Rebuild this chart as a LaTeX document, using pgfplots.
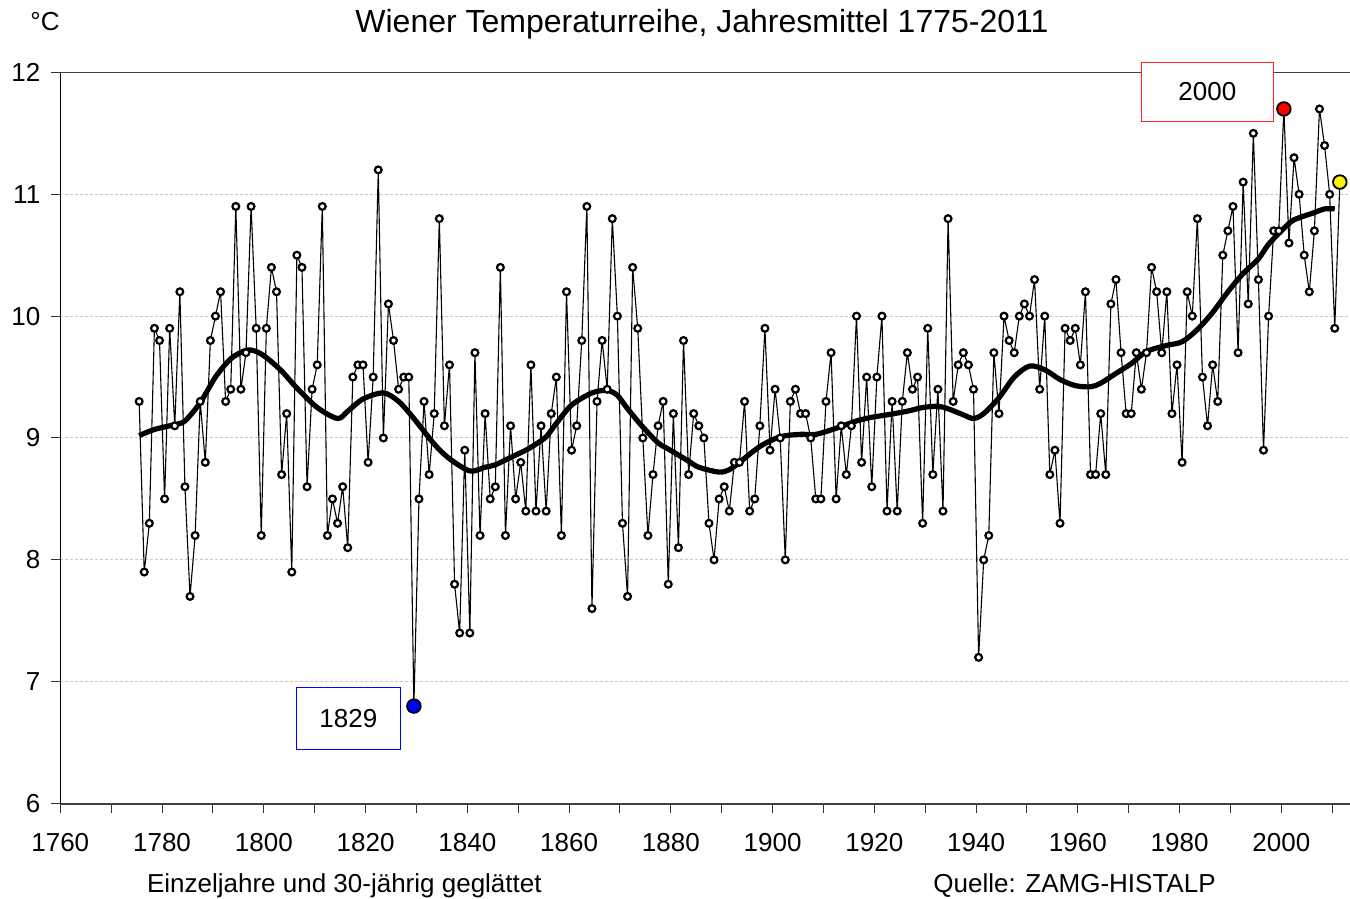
\documentclass[border=0pt]{standalone}
\usepackage{pgfplots}
\pgfplotsset{compat=1.18}
\usepackage{pgfplotstable}
\usepackage{fontspec}
\setmainfont{Liberation Sans}

% Jahresmittel Wien (Einzeljahre)
\pgfplotstableread{
year temp
1775 9.3
1776 7.9
1777 8.3
1778 9.9
1779 9.8
1780 8.5
1781 9.9
1782 9.1
1783 10.2
1784 8.6
1785 7.7
1786 8.2
1787 9.3
1788 8.8
1789 9.8
1790 10.0
1791 10.2
1792 9.3
1793 9.4
1794 10.9
1795 9.4
1796 9.7
1797 10.9
1798 9.9
1799 8.2
1800 9.9
1801 10.4
1802 10.2
1803 8.7
1804 9.2
1805 7.9
1806 10.5
1807 10.4
1808 8.6
1809 9.4
1810 9.6
1811 10.9
1812 8.2
1813 8.5
1814 8.3
1815 8.6
1816 8.1
1817 9.5
1818 9.6
1819 9.6
1820 8.8
1821 9.5
1822 11.2
1823 9.0
1824 10.1
1825 9.8
1826 9.4
1827 9.5
1828 9.5
1829 6.8
1830 8.5
1831 9.3
1832 8.7
1833 9.2
1834 10.8
1835 9.1
1836 9.6
1837 7.8
1838 7.4
1839 8.9
1840 7.4
1841 9.7
1842 8.2
1843 9.2
1844 8.5
1845 8.6
1846 10.4
1847 8.2
1848 9.1
1849 8.5
1850 8.8
1851 8.4
1852 9.6
1853 8.4
1854 9.1
1855 8.4
1856 9.2
1857 9.5
1858 8.2
1859 10.2
1860 8.9
1861 9.1
1862 9.8
1863 10.9
1864 7.6
1865 9.3
1866 9.8
1867 9.4
1868 10.8
1869 10.0
1870 8.3
1871 7.7
1872 10.4
1873 9.9
1874 9.0
1875 8.2
1876 8.7
1877 9.1
1878 9.3
1879 7.8
1880 9.2
1881 8.1
1882 9.8
1883 8.7
1884 9.2
1885 9.1
1886 9.0
1887 8.3
1888 8.0
1889 8.5
1890 8.6
1891 8.4
1892 8.8
1893 8.8
1894 9.3
1895 8.4
1896 8.5
1897 9.1
1898 9.9
1899 8.9
1900 9.4
1901 9.0
1902 8.0
1903 9.3
1904 9.4
1905 9.2
1906 9.2
1907 9.0
1908 8.5
1909 8.5
1910 9.3
1911 9.7
1912 8.5
1913 9.1
1914 8.7
1915 9.1
1916 10.0
1917 8.8
1918 9.5
1919 8.6
1920 9.5
1921 10.0
1922 8.4
1923 9.3
1924 8.4
1925 9.3
1926 9.7
1927 9.4
1928 9.5
1929 8.3
1930 9.9
1931 8.7
1932 9.4
1933 8.4
1934 10.8
1935 9.3
1936 9.6
1937 9.7
1938 9.6
1939 9.4
1940 7.2
1941 8.0
1942 8.2
1943 9.7
1944 9.2
1945 10.0
1946 9.8
1947 9.7
1948 10.0
1949 10.1
1950 10.0
1951 10.3
1952 9.4
1953 10.0
1954 8.7
1955 8.9
1956 8.3
1957 9.9
1958 9.8
1959 9.9
1960 9.6
1961 10.2
1962 8.7
1963 8.7
1964 9.2
1965 8.7
1966 10.1
1967 10.3
1968 9.7
1969 9.2
1970 9.2
1971 9.7
1972 9.4
1973 9.7
1974 10.4
1975 10.2
1976 9.7
1977 10.2
1978 9.2
1979 9.6
1980 8.8
1981 10.2
1982 10.0
1983 10.8
1984 9.5
1985 9.1
1986 9.6
1987 9.3
1988 10.5
1989 10.7
1990 10.9
1991 9.7
1992 11.1
1993 10.1
1994 11.5
1995 10.3
1996 8.9
1997 10.0
1998 10.7
1999 10.7
2000 11.7
2001 10.6
2002 11.3
2003 11.0
2004 10.5
2005 10.2
2006 10.7
2007 11.7
2008 11.4
2009 11.0
2010 9.9
2011 11.1
}\jahre

% 30-jaehrig geglaettet
\pgfplotstableread{
year temp
1775 9.02
1778 9.07
1782 9.11
1784 9.14
1787 9.29
1790 9.50
1793 9.65
1796 9.72
1798 9.71
1800 9.66
1803 9.55
1806 9.41
1810 9.25
1814 9.16
1816 9.22
1819 9.32
1823 9.37
1826 9.30
1829 9.16
1833 8.95
1836 8.83
1840 8.73
1843 8.76
1845 8.78
1848 8.84
1851 8.90
1853 8.95
1855 9.01
1857 9.12
1860 9.27
1864 9.37
1867 9.39
1869 9.35
1871 9.24
1874 9.09
1877 8.96
1879 8.91
1883 8.81
1885 8.76
1889 8.72
1891 8.74
1893 8.80
1897 8.93
1901 9.01
1905 9.03
1908 9.03
1912 9.08
1916 9.14
1919 9.17
1922 9.19
1926 9.22
1929 9.25
1932 9.26
1934 9.24
1937 9.19
1939 9.16
1941 9.20
1944 9.33
1947 9.50
1950 9.59
1953 9.56
1956 9.48
1959 9.43
1962 9.42
1964 9.45
1967 9.53
1970 9.61
1973 9.71
1977 9.76
1980 9.79
1983 9.89
1986 10.03
1989 10.20
1992 10.35
1995 10.47
1997 10.59
2000 10.72
2002 10.79
2006 10.85
2008 10.88
2010 10.88
}\glatt

\begin{document}
\begin{tikzpicture}
\begin{axis}[
    at={(0,0)}, anchor=south west,
    scale only axis,
    width=644.85pt, height=365.6pt,
    xmin=1759.5, xmax=2013,
    ymin=6, ymax=12,
    axis lines*=left,
    x axis line style={-, draw=black!75, line width=1pt},
    y axis line style={-, draw=black, line width=0.5pt},
    tick align=outside,
    major tick length=4.5pt,
    tick style={draw=black!80, line width=0.5pt},
    xtick={1759.5,1769.5,...,2009.5},
    xticklabels={1760,,1780,,1800,,1820,,1840,,1860,,1880,,1900,,1920,,1940,,1960,,1980,,2000,},
    ytick={6,7,...,12},
    ymajorgrids,
    grid style={draw=black!22, dash pattern=on 1.5pt off 1pt, line width=0.5pt},
    /pgf/number format/assume math mode=true,
    ticklabel style={font=\fontsize{13}{13}\selectfont},
    xticklabel style={anchor=north, yshift=-7pt},
    yticklabel style={anchor=east, xshift=-2pt},
]
\addplot[black, line width=0.55pt, mark=*, mark size=1.7pt,
    mark options={fill=white, draw=black, line width=1.1pt}]
    table[x=year, y=temp] {\jahre};
\addplot[black, line width=2.6pt, smooth] table[x=year, y=temp] {\glatt};
\addplot[only marks, mark=*, mark size=3.4pt,
    mark options={fill=blue, draw=black, line width=0.9pt}] coordinates {(1829,6.8)};
\addplot[only marks, mark=*, mark size=3.4pt,
    mark options={fill=red, draw=black, line width=0.9pt}] coordinates {(2000,11.7)};
\addplot[only marks, mark=*, mark size=3.4pt,
    mark options={fill=yellow, draw=black, line width=0.9pt}] coordinates {(2011,11.1)};
\end{axis}

% obere Begrenzung
\draw[black!75, line width=0.5pt] (0,365.6pt) -- (644.85pt,365.6pt);

% Markierungen
\node[draw=red!85, fill=white, line width=0.5pt, minimum width=66pt, minimum height=29.3pt,
    inner sep=0pt, font=\fontsize{13}{13}\selectfont] at (573.5pt,355.8pt) {2000};
\node[draw=blue, fill=white, line width=0.5pt, minimum width=52pt, minimum height=31pt,
    inner sep=0pt, font=\fontsize{13}{13}\selectfont] at (144pt,42.65pt) {1829};

% Texte
\node[anchor=base west, inner sep=0pt, font=\fontsize{16}{16}\selectfont]
    at (147.35pt,385.5pt) {Wiener Temperaturreihe, Jahresmittel 1775-2011};
\node[anchor=base west, inner sep=0pt, font=\fontsize{13}{13}\selectfont]
    at (-15.15pt,386.3pt) {°C};
\node[anchor=base west, inner sep=0pt, font=\fontsize{13}{13}\selectfont]
    at (43.2pt,-44.7pt) {Einzeljahre und 30-jährig geglättet};
\node[anchor=base west, inner sep=0pt, font=\fontsize{13}{13}\selectfont]
    at (436.35pt,-44.7pt) {Quelle: ZAMG-HISTALP};

\pgfresetboundingbox
\path[use as bounding box] (-30.15pt,-47.7pt) rectangle (644.85pt,401.8pt);
\end{tikzpicture}
\end{document}
